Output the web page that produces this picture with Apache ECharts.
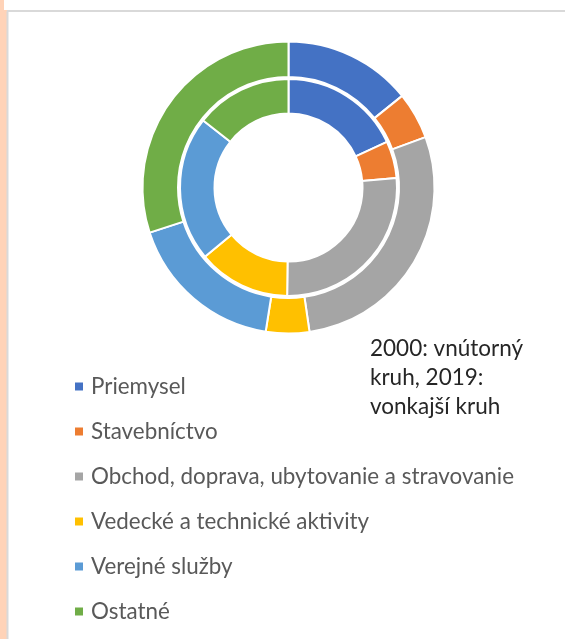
<!DOCTYPE html>
<html>
<head>
<meta charset="utf-8">
<script src="https://cdn.jsdelivr.net/npm/echarts@6/dist/echarts.min.js"></script>
<style>
  html, body { margin: 0; padding: 0; background: #ffffff; }
  #chart { width: 565px; height: 639px; }
</style>
</head>
<body>
<div id="chart"></div>
<script>
// Sector categories (shared by both rings)
const categories = [
  'Priemysel',
  'Stavebníctvo',
  'Obchod, doprava, ubytovanie a stravovanie',
  'Vedecké a technické aktivity',
  'Verejné služby',
  'Ostatné'
];
// Shares in percent: inner ring = 2000, outer ring = 2019
const values2000 = [18.1, 5.5, 26.6, 13.8, 21.6, 14.4];
const values2019 = [14.2, 5.2, 28.3, 4.8, 17.5, 30.0];
const colors = ['#4472C4', '#ED7D31', '#A5A5A5', '#FFC000', '#5B9BD5', '#70AD47'];
const note = '2000: vnútorný\nkruh, 2019:\nvonkajší kruh';

const toData = vals => categories.map((name, i) => ({ name, value: vals[i] }));

const chart = echarts.init(document.getElementById('chart'), null, { renderer: 'canvas' });

const ringStyle = { borderColor: '#ffffff', borderWidth: 2 };

chart.setOption({
  animation: false,
  color: colors,
  graphic: [
    // page edge and frame around the chart area
    { type: 'rect', shape: { x: 0, y: 0, width: 7, height: 639 }, style: { fill: '#FFD3B8' }, silent: true },
    { type: 'rect', shape: { x: 0, y: 0, width: 565, height: 10 }, style: { fill: '#ffffff' }, silent: true },
    { type: 'rect', shape: { x: 0, y: 0, width: 4, height: 10 }, style: { fill: '#FFD3B8' }, silent: true },
    { type: 'line', shape: { x1: 7, y1: 11, x2: 565, y2: 11 }, style: { stroke: '#D9D9D9', lineWidth: 2 }, silent: true },
    { type: 'line', shape: { x1: 7.5, y1: 11, x2: 7.5, y2: 639 }, style: { stroke: '#D9D9D9', lineWidth: 2 }, silent: true },
    {
      type: 'text', left: 370, top: 334, silent: true,
      style: {
        text: note,
        font: '22.5px Lato, "Liberation Sans", sans-serif',
        fill: '#262626',
        lineHeight: 29
      }
    }
  ],
  legend: {
    orient: 'vertical',
    left: 73,
    top: 375.5,
    padding: 0,
    itemWidth: 10,
    itemHeight: 10,
    itemGap: 23,
    icon: 'rect',
    selectedMode: false,
    data: categories,
    textStyle: {
      fontFamily: 'Lato, "Liberation Sans", sans-serif',
      fontSize: 22.4,
      lineHeight: 22,
      color: '#595959',
      padding: [0, 0, 0, 2]
    }
  },
  series: [
    {
      name: '2000',
      type: 'pie',
      center: [288.5, 187.5],
      radius: [74, 108.5],
      startAngle: 90,
      clockwise: true,
      label: { show: false },
      labelLine: { show: false },
      itemStyle: ringStyle,
      emphasis: { disabled: true },
      data: toData(values2000)
    },
    {
      name: '2019',
      type: 'pie',
      center: [288.5, 187.5],
      radius: [110.5, 146],
      startAngle: 90,
      clockwise: true,
      label: { show: false },
      labelLine: { show: false },
      itemStyle: ringStyle,
      emphasis: { disabled: true },
      data: toData(values2019)
    }
  ]
});
</script>
</body>
</html>
